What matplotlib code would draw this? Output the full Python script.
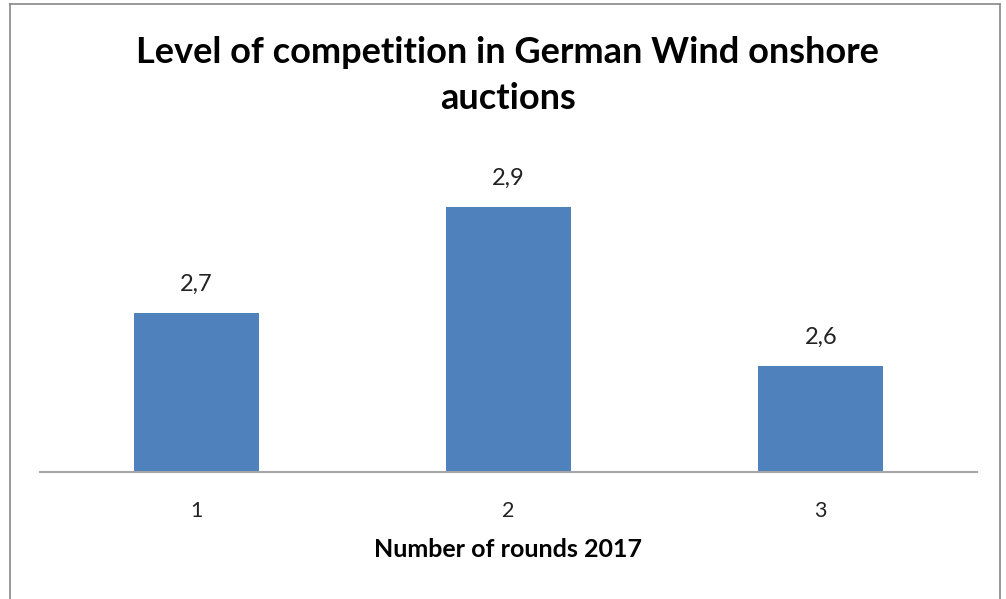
import matplotlib
matplotlib.use('Agg')
import matplotlib.pyplot as plt

# data
rounds = ['1', '2', '3']
competition = [2.7, 2.9, 2.6]
value_labels = ['2,7', '2,9', '2,6']

plt.rcParams['font.family'] = ['Lato', 'DejaVu Sans']

W, H = 1006, 599
fig = plt.figure(figsize=(W/100, H/100), dpi=100)

# chart border (open at the bottom, as in the screenshot)
fig.add_artist(plt.Line2D([10/W, 10/W], [0, 1-4/H], color='#888888', lw=1.2))
fig.add_artist(plt.Line2D([10/W, 1000/W], [1-4/H, 1-4/H], color='#888888', lw=1.2))
fig.add_artist(plt.Line2D([1000/W, 1000/W], [0, 1-4/H], color='#888888', lw=1.2))

# plot area: x 40..977 px, baseline at y=472
ax = fig.add_axes([40/W, 1-472/H, 937/W, 321/H])
x = range(len(rounds))
bars = ax.bar(x, competition, width=0.4, color='#4F81BD')
ax.set_ylim(2.4, 3.006)
ax.set_xlim(-0.5, 2.5)

for b, lab in zip(bars, value_labels):
    ax.annotate(lab, (b.get_x()+b.get_width()/2, b.get_height()),
                xytext=(0, 13), textcoords='offset points',
                ha='center', va='bottom', fontsize=17, color='#222222')

for s in ['top', 'right', 'left']:
    ax.spines[s].set_visible(False)
ax.spines['bottom'].set_color('#A6A6A6')
ax.spines['bottom'].set_linewidth(1.5)
ax.set_yticks([])
ax.set_xticks(list(x))
ax.set_xticklabels(rounds, fontsize=15.5, color='#222222')
ax.tick_params(axis='x', length=0, pad=21)
ax.set_xlabel('Number of rounds 2017', fontsize=18, fontweight='bold', labelpad=12)

fig.text(507/W, 1-63/H, 'Level of competition in German Wind onshore',
         ha='center', va='baseline', fontsize=26, fontweight='bold')
fig.text(508/W, 1-109/H, 'auctions',
         ha='center', va='baseline', fontsize=26, fontweight='bold')

fig.savefig('out.png', dpi=100, facecolor='white')
